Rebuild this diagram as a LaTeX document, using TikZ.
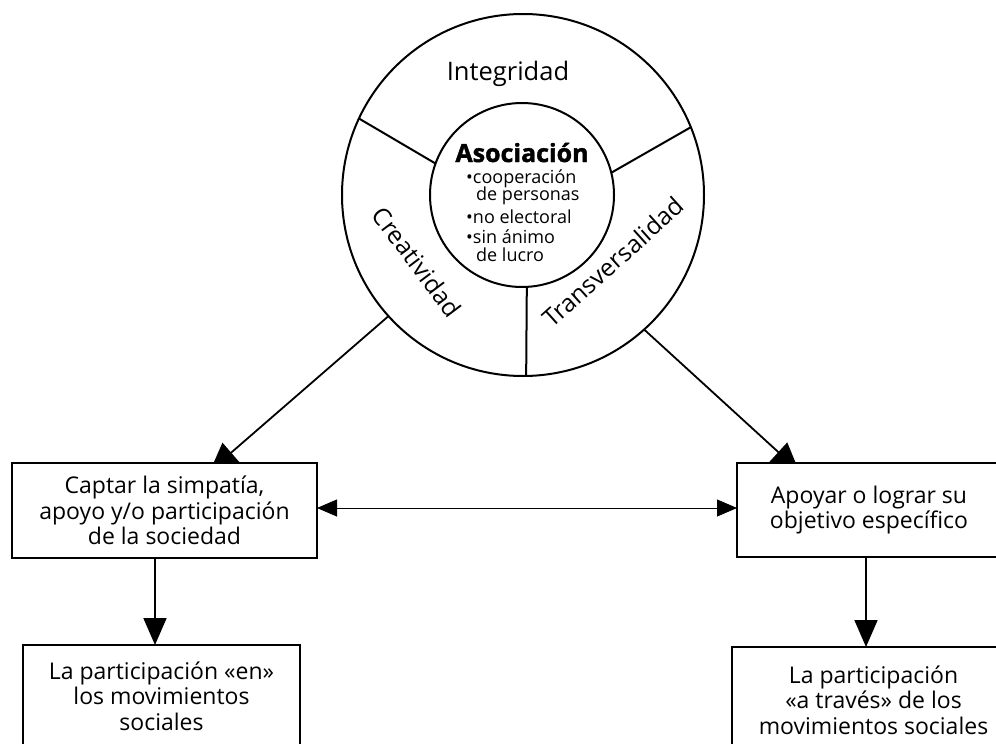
\documentclass[tikz,border=0pt]{standalone}
\usepackage{fontspec}
\setmainfont{Open Sans}
\newfontfamily\heavyfont{Open Sans}[BoldFeatures={FakeBold=1.6}]
\usetikzlibrary{arrows.meta}
\begin{document}
\begin{tikzpicture}[x=1pt,y=-1pt,
  ring/.style={circle,draw,line width=2pt,inner sep=0pt,outer sep=0pt},
  divider/.style={line width=2pt},
  box/.style={draw,line width=2.3pt,fill=white,align=center,inner sep=0pt,outer sep=0pt,font=\fontsize{23}{25.5}\selectfont},
  conn/.style={line width=1.8pt,-{Triangle[length=28pt,width=26pt]}},
  darr/.style={line width=1.8pt,-{Triangle[length=27pt,width=23pt]}},
  harr/.style={line width=0.8pt,{Triangle[length=20pt,width=17pt]}-{Triangle[length=20pt,width=17pt]}},
  ringtext/.style={font=\fontsize{24.5}{28}\selectfont,inner sep=0pt},
  itemline/.style={font=\fontsize{18}{18}\selectfont,inner sep=0pt,anchor=base west}
]
\useasboundingbox (0,0) rectangle (996,744);
\clip (0,0) rectangle (996,744);
% circles
\node[ring,minimum size=362pt] (outer) at (523,195) {};
\node[ring,minimum size=184pt] (inner) at (522,195) {};
\draw[divider] (outer.155) -- (inner.160);
\draw[divider] (outer.22) -- (inner.14);
\draw[divider] (outer.271) -- (inner.273);
% ring labels
\node[font=\fontsize{25.5}{28}\selectfont,inner sep=0pt,anchor=base] (integ) at (508,80) {Integridad};
\node[ringtext,rotate=-53] (creat) at (417,262) {Creatividad};
\node[ringtext,rotate=42] (trans) at (613,262) {Transversalidad};
% centre text
\node[font=\fontsize{25}{28}\selectfont\heavyfont\bfseries,inner sep=0pt,anchor=base] (asoc) at (522,162) {Asociación};
\node[itemline] (i1) at (466,183) {\textbullet cooperación};
\node[itemline] (i1b) at (476,200) {de personas};
\node[itemline] (i2) at (466,223) {\textbullet no electoral};
\node[itemline] (i3) at (466,243) {\textbullet sin ánimo};
\node[itemline] (i3b) at (476,261) {de lucro};
% connectors to boxes
\coordinate (ltip) at (210,471);
\coordinate (rtip) at (799,471);
\draw[conn] (outer.222) -- (ltip);
\draw[conn] (outer.312) -- (rtip);
% boxes
\node[box,minimum width=305pt,minimum height=95pt] (b1) at (164.5,510.5)
  {Captar la simpatía,\\apoyo y/o participación\\de la sociedad};
\node[box,minimum width=264pt,minimum height=94pt] (b3) at (869,510)
  {Apoyar o lograr su\\objetivo específico};
\node[box,minimum width=277pt,minimum height=102pt] (b2) at (161.5,696)
  {La participación «en»\\los movimientos\\sociales};
\node[box,minimum width=283pt,minimum height=106pt] (b4) at (873.5,700)
  {La participación\\«a través» de los\\movimientos sociales};
% arrows between boxes
\draw[harr] ([yshift=2.5pt]b1.east) -- ([yshift=2.5pt]b1.east -| b3.west);
\draw[darr] ([xshift=-9.5pt]b1.south) -- ([xshift=-9.5pt]b1.south |- b2.north);
\draw[darr] ([xshift=-3pt]b3.south) -- ([xshift=-3pt]b3.south |- b4.north);
\end{tikzpicture}
\end{document}
